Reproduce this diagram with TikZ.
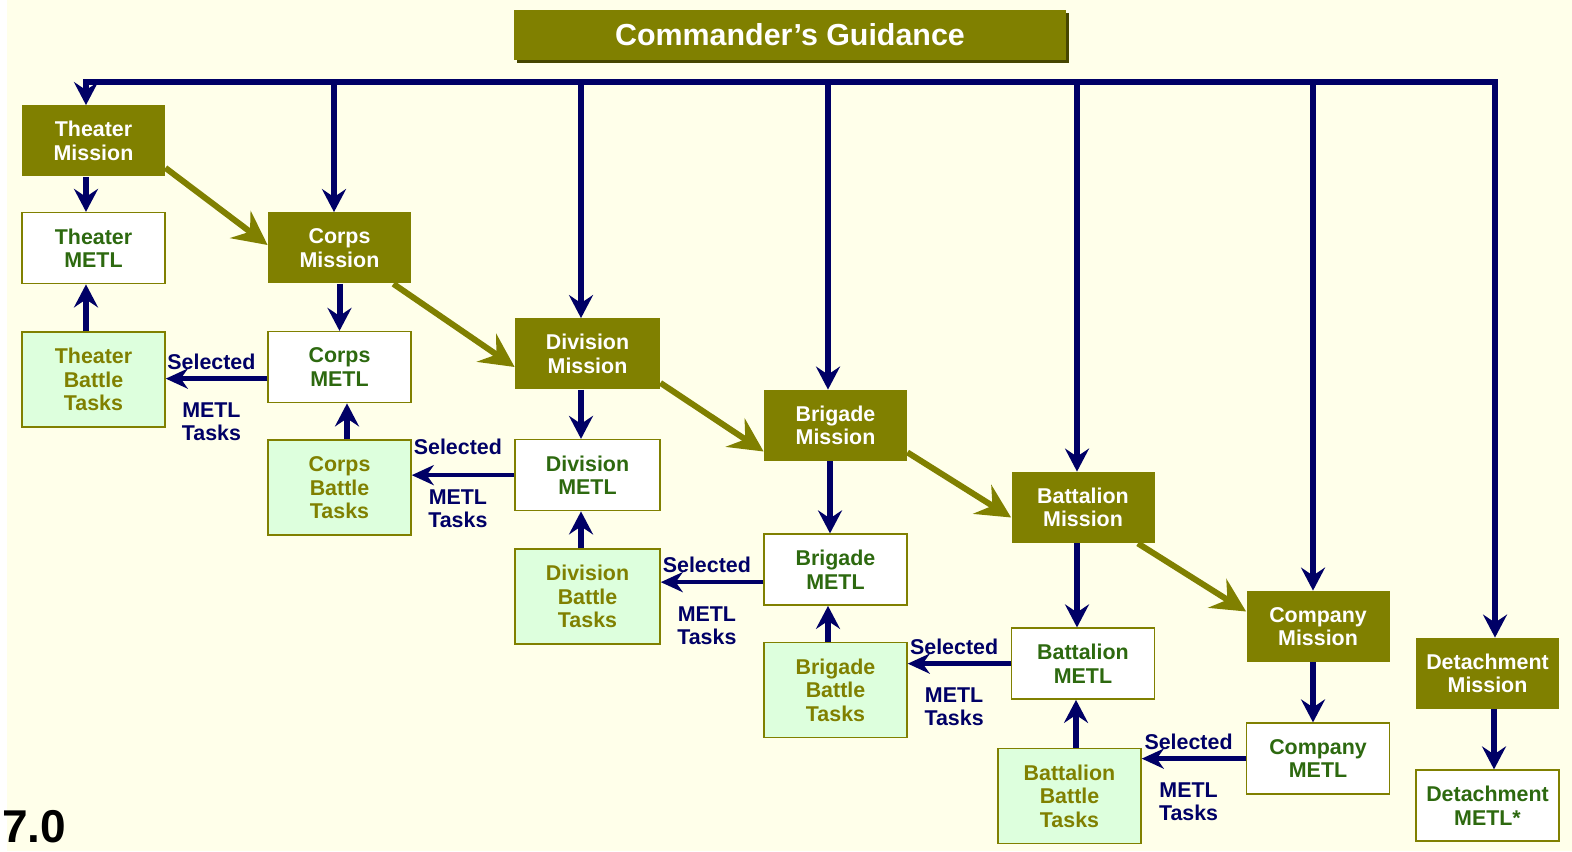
\documentclass[tikz,border=0pt]{standalone}
\usepackage{fontspec}
\setmainfont{Liberation Sans}
\usepackage{tikz}
\usetikzlibrary{positioning,arrows.meta,shadows}
\usepackage{xcolor}
\definecolor{guideolive}{RGB}{128,128,0}
\definecolor{shadowolive}{RGB}{70,70,0}
\definecolor{flownavy}{RGB}{0,0,102}
\definecolor{paper}{RGB}{255,255,234}
\definecolor{taskmint}{RGB}{221,255,221}
\definecolor{metlgreen}{RGB}{45,105,15}

\begin{document}
\begin{tikzpicture}[
    x=0.5pt, y=0.5pt,
    unitbox/.style={rectangle, minimum width=71.5pt, minimum height=35.5pt, align=center,
                    inner sep=1pt, font=\fontsize{10.7pt}{11.7pt}\selectfont\bfseries},
    mission/.style={unitbox, fill=guideolive, text=white},
    metl/.style={unitbox, draw=guideolive, fill=white, text=metlgreen, line width=0.75pt},
    battle/.style={unitbox, draw=guideolive, fill=taskmint, text=guideolive,
                   line width=0.75pt, minimum height=47.5pt},
    guidebox/.style={rectangle, fill=guideolive, text=white, minimum width=275pt,
                     minimum height=25pt, font=\fontsize{15.2pt}{18pt}\selectfont\bfseries,
                     drop shadow={shadow xshift=1.5pt, shadow yshift=-1.5pt, fill=shadowolive, opacity=1}},
    navyarrow/.style={-{Stealth[length=11.5pt, width=12pt, inset=4pt]}, line width=3pt, draw=flownavy},
    selarrow/.style={-{Stealth[length=11pt, width=10pt, inset=3.5pt]}, line width=2.25pt, draw=flownavy},
    olivearrow/.style={-{Stealth[length=17pt, width=17pt, inset=6pt]}, line width=3pt, draw=guideolive},
    tasklabel/.style={align=center, inner sep=1pt, text=flownavy,
                      font=\fontsize{10.7pt}{11.5pt}\selectfont\bfseries}
]

% Page
\useasboundingbox (0,0) rectangle (1572,851);
\fill[white] (0,0) rectangle (1572,851);
\fill[paper] (7,0) rectangle (1572,851);

% Title
\node[guidebox, minimum width=276pt] (guide) at (790,816) {Commander's Guidance};
\coordinate (bus) at (790,769);

% Missions
\node[mission] (tm) at (93.5,710) {Theater\\Mission};
\node[mission] (cm) at (339.5,603) {Corps\\Mission};
\node[mission, minimum width=72.5pt] (dm) at (587.5,497) {Division\\Mission};
\node[mission] (bm) at (835.5,425.5) {Brigade\\Mission};
\node[mission] (btm) at (1083,343.5) {Battalion\\Mission};
\node[mission] (com) at (1318,224.5) {Company\\Mission};
\node[mission] (dtm) at (1487.5,177.5) {Detachment\\Mission};

% METLs
\node[metl, below=17.5pt of tm] (tmetl) {Theater\\METL};
\node[metl, below=23.5pt of cm] (cmetl) {Corps\\METL};
\node[metl, minimum width=72.5pt, below=24.5pt of dm] (dmetl) {Division\\METL};
\node[metl, below=36pt of bm] (bmetl) {Brigade\\METL};
\node[metl, below=42pt of btm] (btmetl) {Battalion\\METL};
\node[metl, below=30pt of com] (cometl) {Company\\METL};
\node[metl, below=30pt of dtm] (dtmetl) {Detachment\\METL*};

% Battle tasks
\node[battle, below=23.5pt of tmetl] (tbt) {Theater\\Battle\\Tasks};
\node[battle, below=18pt of cmetl] (cbt) {Corps\\Battle\\Tasks};
\node[battle, minimum width=72.5pt, below=18.5pt of dmetl] (dbt) {Division\\Battle\\Tasks};
\node[battle, below=18pt of bmetl] (bbt) {Brigade\\Battle\\Tasks};
\node[battle, below=24pt of btmetl, xshift=-6.75pt] (btbt) {Battalion\\Battle\\Tasks};

% Guidance bus
\draw[navyarrow, {Stealth[length=11.5pt, width=12pt, inset=4pt]}-{Stealth[length=11.5pt, width=12pt, inset=4pt]}]
    ([xshift=-3.75pt]tm.north) |- (bus) -| ([xshift=3.75pt]dtm.north);
\draw[navyarrow] ([xshift=-2.75pt]cm.north |- bus) -- ([xshift=-2.75pt]cm.north);
\draw[navyarrow] ([xshift=-3.25pt]dm.north |- bus) -- ([xshift=-3.25pt]dm.north);
\draw[navyarrow] ([xshift=-3.75pt]bm.north |- bus) -- ([xshift=-3.75pt]bm.north);
\draw[navyarrow] ([xshift=-3pt]btm.north |- bus) -- ([xshift=-3pt]btm.north);
\draw[navyarrow] ([xshift=-2.5pt]com.north |- bus) -- ([xshift=-2.5pt]com.north);

% Mission to METL
\draw[navyarrow] ([xshift=-3.75pt]tm.south) -- ([xshift=-3.75pt]tmetl.north);
\draw[navyarrow] (cm.south) -- (cmetl.north);
\draw[navyarrow] ([xshift=-3.25pt]dm.south) -- ([xshift=-3.25pt]dmetl.north);
\draw[navyarrow] ([xshift=-2.75pt]bm.south) -- ([xshift=-2.75pt]bmetl.north);
\draw[navyarrow] ([xshift=-3pt]btm.south) -- ([xshift=-3pt]btmetl.north);
\draw[navyarrow] ([xshift=-2.5pt]com.south) -- ([xshift=-2.5pt]cometl.north);
\draw[navyarrow] ([xshift=3.25pt]dtm.south) -- ([xshift=3.25pt]dtmetl.north);

% Battle tasks to METL
\draw[navyarrow] ([xshift=-3.75pt]tbt.north) -- ([xshift=-3.75pt]tmetl.south);
\draw[navyarrow] ([xshift=3.75pt]cbt.north) -- ([xshift=3.75pt]cmetl.south);
\draw[navyarrow] ([xshift=-3.25pt]dbt.north) -- ([xshift=-3.25pt]dmetl.south);
\draw[navyarrow] ([xshift=-3.75pt]bbt.north) -- ([xshift=-3.75pt]bmetl.south);
\draw[navyarrow] ([xshift=-3.5pt]btmetl.south |- btbt.north) -- ([xshift=-3.5pt]btmetl.south);

% Selected METL tasks
\draw[selarrow] ([yshift=-5.75pt]cmetl.west) -- ([yshift=-5.75pt]cmetl.west -| tbt.east)
    node[tasklabel, pos=0.55, above=2.5pt] (sel1) {Selected}
    node[tasklabel, pos=0.55, below=10pt] (mt1) {METL\\Tasks};
\draw[selarrow] (dmetl.west) -- (dmetl.west -| cbt.east)
    node[tasklabel, pos=0.55, above=8pt] (sel2) {Selected}
    node[tasklabel, pos=0.55, below=5pt] (mt2) {METL\\Tasks};
\draw[selarrow] ([yshift=-6.25pt]bmetl.west) -- ([yshift=-6.25pt]bmetl.west -| dbt.east)
    node[tasklabel, pos=0.55, above=2.5pt] (sel3) {Selected}
    node[tasklabel, pos=0.55, below=10pt] (mt3) {METL\\Tasks};
\draw[selarrow] (btmetl.west) -- (btmetl.west -| bbt.east)
    node[tasklabel, pos=0.55, above=2.5pt] (sel4) {Selected}
    node[tasklabel, pos=0.55, below=10pt] (mt4) {METL\\Tasks};
\draw[selarrow] (cometl.west) -- (cometl.west -| btbt.east)
    node[tasklabel, pos=0.55, above=2.5pt] (sel5) {Selected}
    node[tasklabel, pos=0.55, below=10pt] (mt5) {METL\\Tasks};

% Mission cascade
\draw[olivearrow] ([yshift=4.5pt]tm.south east) -- ([yshift=1.5pt]cm.west);
\draw[olivearrow] ([xshift=-9pt]cm.south east) -- ([yshift=-6.5pt]dm.west);
\draw[olivearrow] ([yshift=3.5pt]dm.south east) -- ([yshift=-13pt]bm.west);
\draw[olivearrow] ([yshift=4.5pt]bm.south east) -- ([yshift=-5pt]btm.west);
\draw[olivearrow] ([xshift=-8.5pt]btm.south east) -- ([yshift=7.5pt]com.west);

% Slide number
\node[anchor=base west, inner sep=0pt, font=\fontsize{23pt}{26pt}\selectfont\bfseries] (slideno) at (2,9) {7.0};

\end{tikzpicture}
\end{document}
